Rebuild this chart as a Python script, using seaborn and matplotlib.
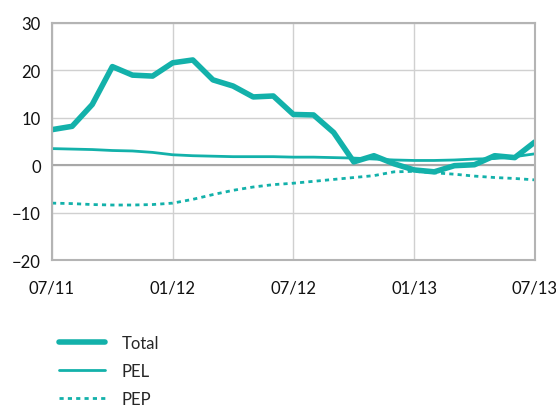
import numpy as np
import pandas as pd
import matplotlib.pyplot as plt
import seaborn as sns

# monthly data, 07/11 .. 07/13
months = pd.date_range("2011-07-01", "2013-07-01", freq="MS")
total = [7.5, 8.2, 12.8, 20.8, 19.0, 18.8, 21.6, 22.2, 18.0, 16.7, 14.4, 14.6,
         10.7, 10.6, 6.9, 0.7, 2.0, 0.3, -1.0, -1.4, -0.1, 0.1, 2.0, 1.6, 4.9]
pel = [3.5, 3.4, 3.3, 3.1, 3.0, 2.7, 2.2, 2.0, 1.9, 1.8, 1.8, 1.8, 1.7,
       1.7, 1.6, 1.5, 1.3, 1.1, 1.0, 1.0, 1.1, 1.3, 1.4, 1.8, 2.4]
pep = [-8.0, -8.1, -8.3, -8.4, -8.4, -8.3, -8.0, -7.2, -6.2, -5.3, -4.6, -4.1,
       -3.8, -3.4, -3.0, -2.6, -2.2, -1.4, -1.3, -1.6, -1.9, -2.3, -2.6, -2.8, -3.1]
tick_labels = ["07/11", "01/12", "07/12", "01/13", "07/13"]

color = "#13b1aa"

df = pd.DataFrame({"x": np.arange(len(months)), "Total": total, "PEL": pel, "PEP": pep})

sns.set_style("white")
plt.rcParams["font.family"] = ["Lato", "DejaVu Sans"]

fig = plt.figure(figsize=(5.56, 4.10), dpi=100)
ax = fig.add_axes([0.0935, 0.3634, 0.8685, 0.5781])

sns.lineplot(data=df, x="x", y="Total", ax=ax, color=color, lw=4, label="Total")
sns.lineplot(data=df, x="x", y="PEL", ax=ax, color=color, lw=2, label="PEL")
sns.lineplot(data=df, x="x", y="PEP", ax=ax, color=color, lw=2, label="PEP",
             linestyle=(0, (1.5, 1.5)))

ax.set_xlim(0, 24)
ax.set_ylim(-20, 30)
ax.set_xticks([0, 6, 12, 18, 24])
ax.set_xticklabels(tick_labels)
ax.set_yticks([-20, -10, 0, 10, 20, 30])
ax.set_xlabel("")
ax.set_ylabel("")
ax.grid(True, color="#d0d0d0", lw=1)
ax.axhline(0, color="#a8a8a8", lw=1.5, zorder=1)
for s in ax.spines.values():
    s.set_color("#b4b4b4")
    s.set_linewidth(1.5)
ax.tick_params(axis="both", length=0, labelsize=12, colors="#111111")
ax.tick_params(axis="x", pad=14)
ax.tick_params(axis="y", pad=8)

ax.get_legend().remove()
handles, labels = ax.get_legend_handles_labels()
fig.legend(handles, labels, loc="upper left", bbox_to_anchor=(0.095, 0.196),
           frameon=False, fontsize=12, handlelength=2.75, handletextpad=1.0,
           labelspacing=0.72, borderaxespad=0)

fig.savefig("out.png", dpi=100)
